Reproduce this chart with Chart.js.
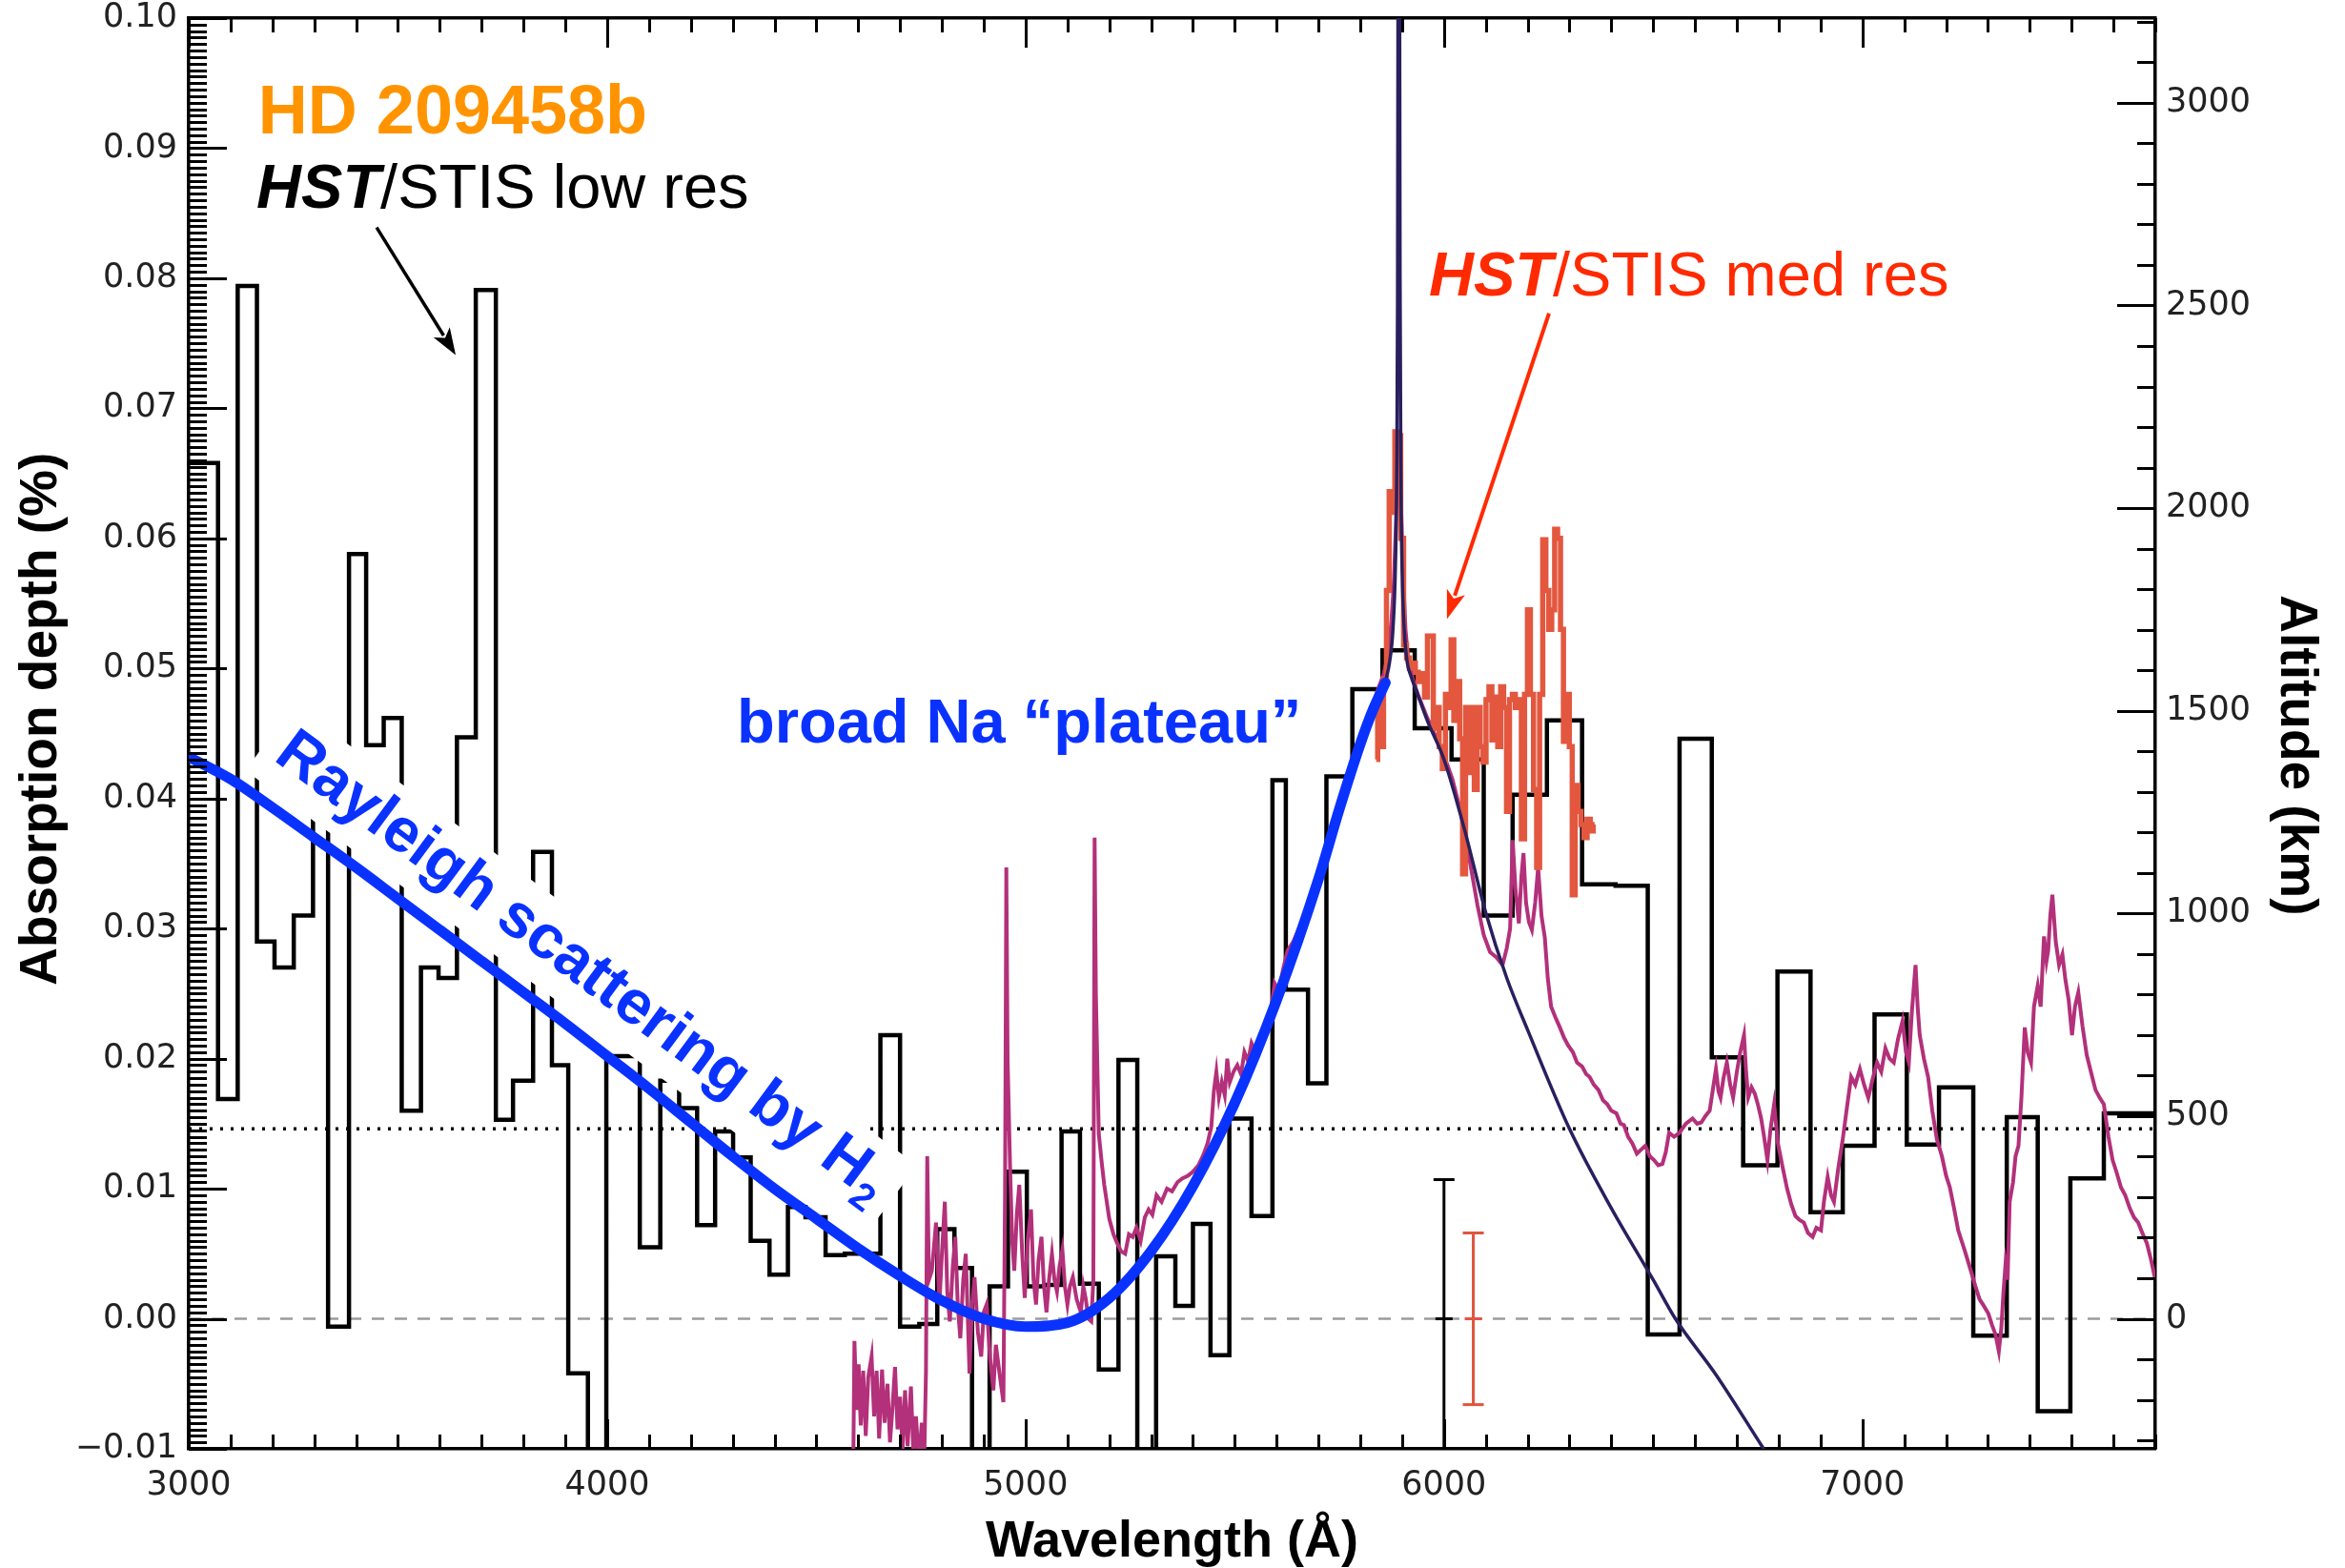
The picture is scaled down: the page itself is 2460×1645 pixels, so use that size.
<!DOCTYPE html>
<html><head><meta charset="utf-8">
<script src="https://cdn.jsdelivr.net/npm/chart.js@4.4.0/dist/chart.umd.min.js"></script>
<style>html,body{margin:0;padding:0;background:#fff;}canvas{display:block;}</style>
</head><body>
<canvas id="c" width="2460" height="1645"></canvas>
<script>
// ---------------- DATA ----------------
const xTickLabels = [3000, 4000, 5000, 6000, 7000];
const yTickLabels = [-0.01, 0.00, 0.01, 0.02, 0.03, 0.04, 0.05, 0.06, 0.07, 0.08, 0.09, 0.10];
const altTickLabels = [0, 500, 1000, 1500, 2000, 2500, 3000];

// HST/STIS low-res bins (edges in Angstrom, absorption depth in %)
const binEdges = [3000,3070,3117,3163,3205,3251,3297,3333,3383,3424,3466,3509,3555,3597,3641,3686,3734,3775,3823,3868,
  3907,3954,3998,4078,4127,4172,4215,4258,4301,4343,4388,4432,4474,4522,4568,4610,4653,4700,4746,4789,
  4830,4872,4914,4958,5003,5044,5086,5130,5175,5222,5267,5312,5358,5400,5442,5487,5540,5590,5622,5675,
  5719,5781,5853,5930,6018,6095,6164,6246,6330,6410,6487,6563,6640,6715,6797,6876,6953,7029,7106,7183,
  7265,7345,7419,7497,7577,7700];
const binValues = [0.0658,0.0169,0.0794,0.0290,0.0270,0.0310,0.0387,-0.0006,0.0588,0.0441,
  0.0462,0.0160,0.0270,0.0262,0.0447,0.0791,0.0153,0.0183,0.0359,0.0195,
  -0.0042,-0.0300,0.0202,0.0055,0.0183,0.0162,0.0072,0.0144,0.0124,0.0060,
  0.0034,0.0086,0.0078,0.0049,0.0050,0.0050,0.0218,-0.0006,-0.0004,0.0069,
  0.0039,-0.0300,0.0025,0.0113,0.0025,0.0026,0.0144,0.0027,-0.0039,0.0199,
  -0.0300,0.0048,0.0010,0.0073,-0.0028,0.0154,0.0079,0.0414,0.0253,0.0181,
  0.0417,0.0484,0.0514,0.0454,0.0430,0.0310,0.0403,0.0460,0.0334,0.0333,
  -0.0012,0.0446,0.0201,0.0118,0.0267,0.0082,0.0133,0.0234,0.0134,0.0178,
  -0.0013,0.0155,-0.0071,0.0108,0.0158];

// model spectrum (magenta)
const modelSpectrum = [[4588,-0.0120],[4591,-0.0017],[4596,-0.0070],[4601,-0.0035],[4606,-0.0082],[4612,-0.0040],[4618,-0.0090],[4624,-0.0045],[4632,-0.0029],[4638,-0.0075],[4644,-0.0040],[4650,-0.0092],[4657,-0.0039],[4663,-0.0080],[4670,-0.0050],[4676,-0.0095],[4682,-0.0068],[4688,-0.0037],[4694,-0.0085],[4700,-0.0060],[4706,-0.0100],[4712,-0.0055],[4718,-0.0098],[4726,-0.0052],[4732,-0.0105],[4738,-0.0075],[4745,-0.0110],[4752,-0.0080],[4758,-0.0105],[4762,-0.0040],[4765,0.0125],[4769,0.0030],[4776,0.0037],[4786,0.0074],[4794,0.0011],[4800,0.0050],[4807,0.0090],[4813,0.0020],[4819,-0.0002],[4826,0.0040],[4832,0.0063],[4838,0.0010],[4844,-0.0015],[4851,0.0030],[4857,0.0050],[4862,0.0000],[4866,-0.0042],[4872,0.0010],[4878,0.0032],[4886,-0.0010],[4894,-0.0029],[4900,0.0005],[4907,0.0011],[4915,-0.0030],[4923,-0.0055],[4929,-0.0020],[4935,-0.0035],[4941,-0.0050],[4947,-0.0064],[4951,0.0100],[4954,0.0347],[4957,0.0200],[4963,0.0116],[4968,0.0060],[4973,0.0037],[4979,0.0080],[4985,0.0103],[4992,0.0050],[4998,0.0016],[5005,0.0060],[5013,0.0084],[5019,0.0030],[5025,0.0011],[5031,0.0045],[5038,0.0063],[5044,0.0025],[5050,0.0005],[5056,0.0030],[5063,0.0050],[5069,0.0030],[5075,0.0021],[5081,0.0040],[5088,0.0053],[5094,0.0025],[5100,0.0011],[5106,0.0025],[5113,0.0032],[5122,0.0015],[5132,0.0005],[5138,0.0025],[5144,0.0015],[5150,0.0000],[5157,-0.0002],[5162,0.0030],[5165,0.0370],[5168,0.0250],[5175,0.0142],[5182,0.0120],[5188,0.0103],[5194,0.0090],[5200,0.0077],[5210,0.0065],[5219,0.0058],[5228,0.0052],[5238,0.0050],[5247,0.0065],[5256,0.0063],[5265,0.0070],[5275,0.0060],[5285,0.0078],[5294,0.0084],[5303,0.0080],[5313,0.0095],[5325,0.0090],[5338,0.0100],[5350,0.0098],[5363,0.0105],[5375,0.0108],[5388,0.0110],[5400,0.0113],[5413,0.0118],[5425,0.0126],[5435,0.0135],[5444,0.0148],[5450,0.0175],[5456,0.0190],[5462,0.0170],[5469,0.0182],[5476,0.0172],[5482,0.0200],[5488,0.0182],[5497,0.0190],[5506,0.0195],[5515,0.0188],[5523,0.0205],[5532,0.0198],[5540,0.0212],[5550,0.0205],[5564,0.0218],[5575,0.0225],[5585,0.0232],[5595,0.0258],[5605,0.0252],[5615,0.0268],[5626,0.0283],[5640,0.0290],[5660,0.0305],[5680,0.0320],[5700,0.0340],[5725,0.0365],[5750,0.0392],[5775,0.0418],[5800,0.0442],[5820,0.0462],[5840,0.0482],[5855,0.0495],[5866,0.0510],[5874,0.0535],[5880,0.0565],[5885,0.0610],[5889,0.0655],[5893,0.0660],[5897,0.0630],[5902,0.0575],[5908,0.0530],[5915,0.0505],[5925,0.0492],[5940,0.0478],[5960,0.0462],[5980,0.0448],[6000,0.0433],[6020,0.0415],[6040,0.0390],[6060,0.0355],[6080,0.0318],[6095,0.0295],[6110,0.0282],[6125,0.0278],[6140,0.0272],[6150,0.0285],[6158,0.0300],[6164,0.0368],[6171,0.0330],[6179,0.0304],[6185,0.0340],[6190,0.0358],[6196,0.0320],[6203,0.0305],[6210,0.0299],[6218,0.0320],[6225,0.0347],[6233,0.0310],[6241,0.0293],[6248,0.0262],[6256,0.0240],[6266,0.0232],[6277,0.0224],[6287,0.0216],[6297,0.0210],[6308,0.0205],[6318,0.0197],[6330,0.0194],[6340,0.0188],[6348,0.0186],[6358,0.0180],[6369,0.0176],[6380,0.0168],[6390,0.0165],[6400,0.0160],[6412,0.0158],[6422,0.0150],[6430,0.0149],[6440,0.0140],[6450,0.0135],[6461,0.0127],[6471,0.0130],[6481,0.0133],[6492,0.0125],[6502,0.0122],[6512,0.0118],[6522,0.0119],[6530,0.0128],[6538,0.0143],[6550,0.0140],[6563,0.0143],[6578,0.0150],[6594,0.0154],[6605,0.0150],[6615,0.0151],[6625,0.0156],[6635,0.0160],[6642,0.0175],[6650,0.0192],[6656,0.0175],[6661,0.0170],[6668,0.0185],[6676,0.0197],[6684,0.0180],[6691,0.0170],[6700,0.0190],[6708,0.0205],[6717,0.0218],[6722,0.0190],[6727,0.0170],[6735,0.0178],[6743,0.0173],[6750,0.0165],[6758,0.0154],[6765,0.0140],[6773,0.0122],[6780,0.0145],[6789,0.0165],[6798,0.0135],[6809,0.0117],[6820,0.0100],[6830,0.0088],[6840,0.0079],[6850,0.0076],[6860,0.0074],[6870,0.0066],[6881,0.0063],[6890,0.0070],[6901,0.0068],[6908,0.0090],[6917,0.0109],[6925,0.0095],[6932,0.0090],[6942,0.0115],[6953,0.0138],[6962,0.0160],[6973,0.0186],[6983,0.0180],[6994,0.0192],[7004,0.0180],[7014,0.0170],[7025,0.0185],[7035,0.0197],[7045,0.0190],[7055,0.0208],[7065,0.0200],[7075,0.0197],[7085,0.0215],[7096,0.0229],[7104,0.0205],[7111,0.0197],[7118,0.0235],[7124,0.0260],[7127,0.0272],[7132,0.0240],[7137,0.0218],[7147,0.0200],[7157,0.0186],[7167,0.0160],[7178,0.0138],[7190,0.0125],[7200,0.0110],[7209,0.0101],[7219,0.0085],[7229,0.0068],[7245,0.0052],[7260,0.0036],[7270,0.0025],[7280,0.0015],[7290,0.0010],[7301,0.0004],[7310,-0.0005],[7318,-0.0012],[7326,-0.0025],[7332,-0.0007],[7337,0.0020],[7342,0.0042],[7347,0.0030],[7352,0.0090],[7360,0.0105],[7366,0.0125],[7373,0.0133],[7380,0.0170],[7388,0.0224],[7395,0.0205],[7403,0.0197],[7410,0.0240],[7419,0.0256],[7426,0.0240],[7434,0.0294],[7440,0.0275],[7444,0.0283],[7449,0.0310],[7454,0.0326],[7462,0.0290],[7470,0.0272],[7478,0.0280],[7485,0.0261],[7493,0.0245],[7501,0.0218],[7508,0.0240],[7516,0.0251],[7526,0.0225],[7536,0.0203],[7546,0.0190],[7557,0.0176],[7567,0.0170],[7577,0.0165],[7588,0.0140],[7598,0.0122],[7608,0.0112],[7618,0.0101],[7628,0.0095],[7639,0.0085],[7649,0.0078],[7659,0.0074],[7669,0.0066],[7680,0.0058],[7690,0.0045],[7700,0.0030]];

// HST/STIS medium-res data (red)
const medResData = [[5838,0.0430],[5845,0.0475],[5852,0.0440],[5859,0.0492],[5866,0.0560],[5872,0.0636],[5879,0.0620],[5886,0.0682],[5893,0.0679],[5900,0.0600],[5907,0.0518],[5914,0.0508],[5921,0.0500],[5928,0.0504],[5935,0.0497],[5942,0.0490],[5950,0.0496],[5957,0.0478],[5964,0.0525],[5971,0.0525],[5978,0.0454],[5985,0.0470],[5992,0.0440],[6000,0.0423],[6007,0.0480],[6014,0.0470],[6020,0.0522],[6027,0.0460],[6034,0.0490],[6041,0.0446],[6048,0.0342],[6055,0.0470],[6062,0.0420],[6069,0.0470],[6076,0.0407],[6083,0.0470],[6090,0.0440],[6097,0.0428],[6104,0.0476],[6111,0.0486],[6118,0.0445],[6125,0.0478],[6132,0.0440],[6139,0.0486],[6146,0.0470],[6153,0.0390],[6160,0.0476],[6167,0.0480],[6174,0.0470],[6181,0.0476],[6189,0.0369],[6196,0.0480],[6203,0.0545],[6210,0.0480],[6218,0.0407],[6225,0.0347],[6232,0.0480],[6240,0.0599],[6247,0.0560],[6254,0.0530],[6261,0.0545],[6268,0.0607],[6275,0.0600],[6282,0.0530],[6289,0.0444],[6296,0.0480],[6303,0.0440],[6310,0.0326],[6317,0.0410],[6324,0.0390],[6331,0.0380],[6338,0.0370],[6346,0.0384],[6353,0.0375],[6360,0.0380]];

// Na line model (navy)
const naModel = [[5860,0.0490],[5870,0.0505],[5878,0.0530],[5884,0.0580],[5887,0.0650],[5889,0.0780],[5890.5,0.1100],[5892,0.1200],[5893.5,0.1100],[5895,0.0800],[5897,0.0650],[5900,0.0575],[5905,0.0530],[5912,0.0505],[5920,0.0495],[5935,0.0482],[5960,0.0460],[6000,0.0430],[6050,0.0375],[6100,0.0312],[6150,0.0262],[6200,0.0222],[6300,0.0146],[6400,0.0085],[6500,0.0030],[6553,0.0000],[6650,-0.0043],[6760,-0.0098],[6800,-0.0118]];

// Rayleigh + broad Na fit (blue)
const rayleighFit = [[3000,0.0432],[3100,0.0415],[3200,0.0393],[3300,0.0370],[3400,0.0347],[3500,0.0323],[3600,0.0299],[3700,0.0275],[3800,0.0251],[3900,0.0227],[4000,0.0202],[4100,0.0177],[4200,0.0151],[4300,0.0125],[4400,0.0100],[4500,0.0077],[4600,0.0054],[4700,0.0033],[4800,0.0014],[4900,0.0000],[5000,-0.0006],[5100,-0.0003],[5200,0.0016],[5300,0.0052],[5400,0.0102],[5500,0.0166],[5600,0.0245],[5700,0.0338],[5750,0.0392],[5800,0.0442],[5830,0.0468],[5860,0.0489]];

const dottedLevel = 0.0146;
const zeroLevel = 0.0;
const errLowRes = {wl: 6000, center: 0.0, half: 0.0107};
const errMedRes = {wl: 6070, center: 0.0, half: 0.0066};

// Annotation anchors in data units
const anchorHD = [3166, 0.0911];
const anchorLowRes = [3162, 0.0854];
const anchorMedRes = [5964, 0.0787];
const anchorPlateau = [4310, 0.0443];
const anchorRayleigh = [3200, 0.0430];
const arrowLowRes = [[3449, 0.0839], [3638, 0.0741]];
const arrowMedRes = [[6251, 0.0773], [6007, 0.0538]];

// ---------------- BUILD ----------------
const toXY = arr => arr.map(p => ({x: p[0], y: p[1]}));
const histPts = binValues.map((v, i) => ({x: binEdges[i], y: v}));
histPts.push({x: binEdges[binEdges.length - 1], y: binValues[binValues.length - 1]});

const FONT = '"Liberation Sans", Arial, sans-serif';
const BLUE_INDEX = 6;
const RAY_ANGLE = 36.5 * Math.PI / 180;
const RAY_FS = 65;

function rayleighWidth(ctx) {
  ctx.font = 'bold ' + RAY_FS + 'px ' + FONT;
  const w1 = ctx.measureText('Rayleigh scattering by H').width;
  ctx.font = 'bold 40px ' + FONT;
  const w2 = ctx.measureText('2').width;
  return [w1, w2];
}

function richText(ctx, x, y, parts) {
  let cx = x;
  for (const p of parts) {
    ctx.font = p.font; ctx.fillStyle = p.color;
    ctx.fillText(p.text, cx, y);
    cx += ctx.measureText(p.text).width;
  }
}

function arrow(ctx, x1, y1, x2, y2, color, lw, hl, hw) {
  const a = Math.atan2(y2 - y1, x2 - x1);
  const c = Math.cos(a), s = Math.sin(a);
  const bx = x2 - hl * c, by = y2 - hl * s;
  ctx.strokeStyle = color; ctx.lineWidth = lw; ctx.lineCap = 'butt';
  ctx.beginPath(); ctx.moveTo(x1, y1); ctx.lineTo(bx + 4 * c, by + 4 * s); ctx.stroke();
  ctx.fillStyle = color; ctx.beginPath();
  ctx.moveTo(x2, y2);
  ctx.lineTo(bx + hw / 2 * s, by - hw / 2 * c);
  ctx.lineTo(bx + 0.25 * hl * c, by + 0.25 * hl * s);
  ctx.lineTo(bx - hw / 2 * s, by + hw / 2 * c);
  ctx.closePath(); ctx.fill();
}

const innerTicks = {
  id: 'innerTicks',
  afterDatasetsDraw(chart) {
    const {ctx, chartArea: a, scales} = chart;
    ctx.save();
    ctx.strokeStyle = '#000'; ctx.lineWidth = 3; ctx.lineCap = 'butt';
    ctx.beginPath();
    for (let v = 3000; v <= 7700; v += 100) {
      const px = Math.round(scales.x.getPixelForValue(v)) + 0.5;
      const len = (v % 1000 === 0) ? 31 : 15;
      ctx.moveTo(px, a.bottom); ctx.lineTo(px, a.bottom - len);
      ctx.moveTo(px, a.top); ctx.lineTo(px, a.top + len);
    }
    for (let k = -20; k <= 200; k++) {
      const py = Math.round(scales.y.getPixelForValue(k * 0.0005)) + 0.5;
      const len = (k % 20 === 0) ? 40 : 19;
      ctx.moveTo(a.left, py); ctx.lineTo(a.left + len, py);
    }
    for (let km = -300; km <= 3200; km += 100) {
      const py = Math.round(scales.y2.getPixelForValue(km)) + 0.5;
      const len = (km % 500 === 0) ? 40 : 19;
      ctx.moveTo(a.right, py); ctx.lineTo(a.right - len, py);
    }
    ctx.stroke();
    ctx.restore();
  }
};

const annotations = {
  id: 'annotations',
  beforeDatasetDraw(chart, args) {
    if (args.index !== BLUE_INDEX) return;
    const ctx = chart.ctx;
    const px = chart.scales.x.getPixelForValue(anchorRayleigh[0]);
    const py = chart.scales.y.getPixelForValue(anchorRayleigh[1]);
    const [w1, w2] = rayleighWidth(ctx);
    ctx.save();
    ctx.translate(px, py); ctx.rotate(RAY_ANGLE);
    ctx.fillStyle = '#ffffff';
    ctx.fillRect(-16, -60, w1 + w2 + 32, 86);
    ctx.restore();
  },
  afterDatasetsDraw(chart) {
    const ctx = chart.ctx;
    const X = v => chart.scales.x.getPixelForValue(v);
    const Y = v => chart.scales.y.getPixelForValue(v);
    ctx.save();
    ctx.textAlign = 'left'; ctx.textBaseline = 'alphabetic';
    richText(ctx, X(anchorHD[0]), Y(anchorHD[1]), [{text: 'HD 209458b', font: 'bold 72px ' + FONT, color: '#ff9400'}]);
    richText(ctx, X(anchorLowRes[0]), Y(anchorLowRes[1]), [
      {text: 'HST', font: 'italic bold 65px ' + FONT, color: '#000'},
      {text: '/STIS low res', font: '65px ' + FONT, color: '#000'}]);
    richText(ctx, X(anchorMedRes[0]), Y(anchorMedRes[1]), [
      {text: 'HST', font: 'italic bold 65px ' + FONT, color: '#ff2a00'},
      {text: '/STIS med res', font: '65px ' + FONT, color: '#ff2a00'}]);
    richText(ctx, X(anchorPlateau[0]), Y(anchorPlateau[1]), [
      {text: 'broad Na \u201Cplateau\u201D', font: 'bold 65px ' + FONT, color: '#0a32ff'}]);
    arrow(ctx, X(arrowLowRes[0][0]), Y(arrowLowRes[0][1]), X(arrowLowRes[1][0]), Y(arrowLowRes[1][1]), '#000', 3.5, 28, 20);
    arrow(ctx, X(arrowMedRes[0][0]), Y(arrowMedRes[0][1]), X(arrowMedRes[1][0]), Y(arrowMedRes[1][1]), '#ff2a00', 4, 30, 20);
    const [w1] = rayleighWidth(ctx);
    ctx.translate(X(anchorRayleigh[0]), Y(anchorRayleigh[1]));
    ctx.rotate(RAY_ANGLE);
    ctx.fillStyle = '#0a32ff';
    ctx.font = 'bold ' + RAY_FS + 'px ' + FONT;
    ctx.fillText('Rayleigh scattering by H', 0, 0);
    ctx.font = 'bold 40px ' + FONT;
    ctx.fillText('2', w1 + 1, 14);
    ctx.restore();
  }
};

const tickFont = {family: '"DejaVu Sans", sans-serif', size: 35};
const titleFont = {family: FONT, size: 55, weight: 'bold', lineHeight: 1};
const noPadV = s => { s.paddingTop = 0; s.paddingBottom = 0; };
const noPadH = s => { s.paddingLeft = 0; s.paddingRight = 0; };

new Chart(document.getElementById('c'), {
  type: 'line',
  data: {
    datasets: [
      {label: 'zero', data: [{x: 3000, y: zeroLevel}, {x: 7700, y: zeroLevel}], borderColor: '#9c9c9c', borderWidth: 2.5, borderDash: [13, 11], pointRadius: 0, order: 9},
      {label: 'dotted', data: [{x: 3000, y: dottedLevel}, {x: 7700, y: dottedLevel}], borderColor: '#000', borderWidth: 3.5, borderDash: [3, 8], pointRadius: 0, order: 8},
      {label: 'STIS low res', data: histPts, stepped: 'before', borderColor: '#000', borderWidth: 4.5, pointRadius: 0, order: 7},
      {label: 'model', data: toXY(modelSpectrum), borderColor: '#b3307a', borderWidth: 4, pointRadius: 0, order: 6},
      {label: 'STIS med res', data: toXY(medResData), stepped: 'middle', borderColor: '#e3573f', borderWidth: 5.5, pointRadius: 0, order: 5},
      {label: 'Na model', data: toXY(naModel), borderColor: '#2a1f5e', borderWidth: 3.5, pointRadius: 0, cubicInterpolationMode: 'monotone', order: 4},
      {label: 'Rayleigh fit', data: toXY(rayleighFit), borderColor: '#0a32ff', borderWidth: 11, pointRadius: 0, cubicInterpolationMode: 'monotone', borderCapStyle: 'round', order: 3},
      {label: 'err low', data: [{x: errLowRes.wl, y: errLowRes.center - errLowRes.half}, {x: errLowRes.wl, y: errLowRes.center}, {x: errLowRes.wl, y: errLowRes.center + errLowRes.half}],
        borderColor: '#000', borderWidth: 3, pointStyle: 'line', pointRadius: [11, 9, 11], pointBorderWidth: 3, pointBorderColor: '#000', order: 2},
      {label: 'err med', data: [{x: errMedRes.wl, y: errMedRes.center - errMedRes.half}, {x: errMedRes.wl, y: errMedRes.center}, {x: errMedRes.wl, y: errMedRes.center + errMedRes.half}],
        borderColor: '#e0553f', borderWidth: 3, pointStyle: 'line', pointRadius: [11, 9, 11], pointBorderWidth: 3, pointBorderColor: '#e0553f', order: 1}
    ]
  },
  options: {
    responsive: false, animation: false, devicePixelRatio: 1,
    layout: {padding: 0},
    plugins: {legend: {display: false}, tooltip: {enabled: false}},
    elements: {line: {tension: 0}},
    scales: {
      x: {
        type: 'linear', position: 'bottom', min: 3000, max: 7700,
        afterFit: s => { s.height = 125; noPadH(s); },
        afterBuildTicks: s => { s.ticks = xTickLabels.map(v => ({value: v})); },
        grid: {display: false, drawTicks: false},
        border: {display: true, color: '#000', width: 3.5},
        ticks: {padding: 18, font: tickFont, color: '#222', maxRotation: 0, autoSkip: false, callback: v => String(v)},
        title: {display: true, text: 'Wavelength (\u00C5)', font: {family: FONT, size: 54, weight: 'bold', lineHeight: 1}, color: '#000', padding: {top: 0, bottom: 0}}
      },
      xTop: {
        type: 'linear', position: 'top', min: 3000, max: 7700,
        afterFit: s => { s.height = 19; noPadH(s); },
        grid: {display: false, drawTicks: false},
        border: {display: true, color: '#000', width: 3.5},
        ticks: {display: false}
      },
      y: {
        type: 'linear', position: 'left', min: -0.01, max: 0.10,
        afterFit: s => { s.width = 198; noPadV(s); },
        afterBuildTicks: s => { s.ticks = yTickLabels.map(v => ({value: v})); },
        grid: {display: false, drawTicks: false},
        border: {display: true, color: '#000', width: 3.5},
        ticks: {padding: 12, font: tickFont, color: '#222', autoSkip: false,
          callback: v => (v < -1e-9 ? '\u2212' : '') + Math.abs(v).toFixed(2)},
        title: {display: true, text: '\u00A0\u00A0Absorption depth (%)', font: titleFont, color: '#000', padding: {top: 16, bottom: 0}}
      },
      y2: {
        type: 'linear', position: 'right', min: -321, max: 3209,
        afterFit: s => { s.width = 199; noPadV(s); },
        afterBuildTicks: s => { s.ticks = altTickLabels.map(v => ({value: v})); },
        grid: {display: false, drawTicks: false},
        border: {display: true, color: '#000', width: 3.5},
        ticks: {padding: 11, font: tickFont, color: '#222', autoSkip: false, callback: v => String(v)},
        title: {display: true, text: '\u00A0\u00A0\u00A0Altitude (km)', font: titleFont, color: '#000', padding: {top: 24, bottom: 0}}
      }
    }
  },
  plugins: [innerTicks, annotations]
});
</script>
</body></html>
